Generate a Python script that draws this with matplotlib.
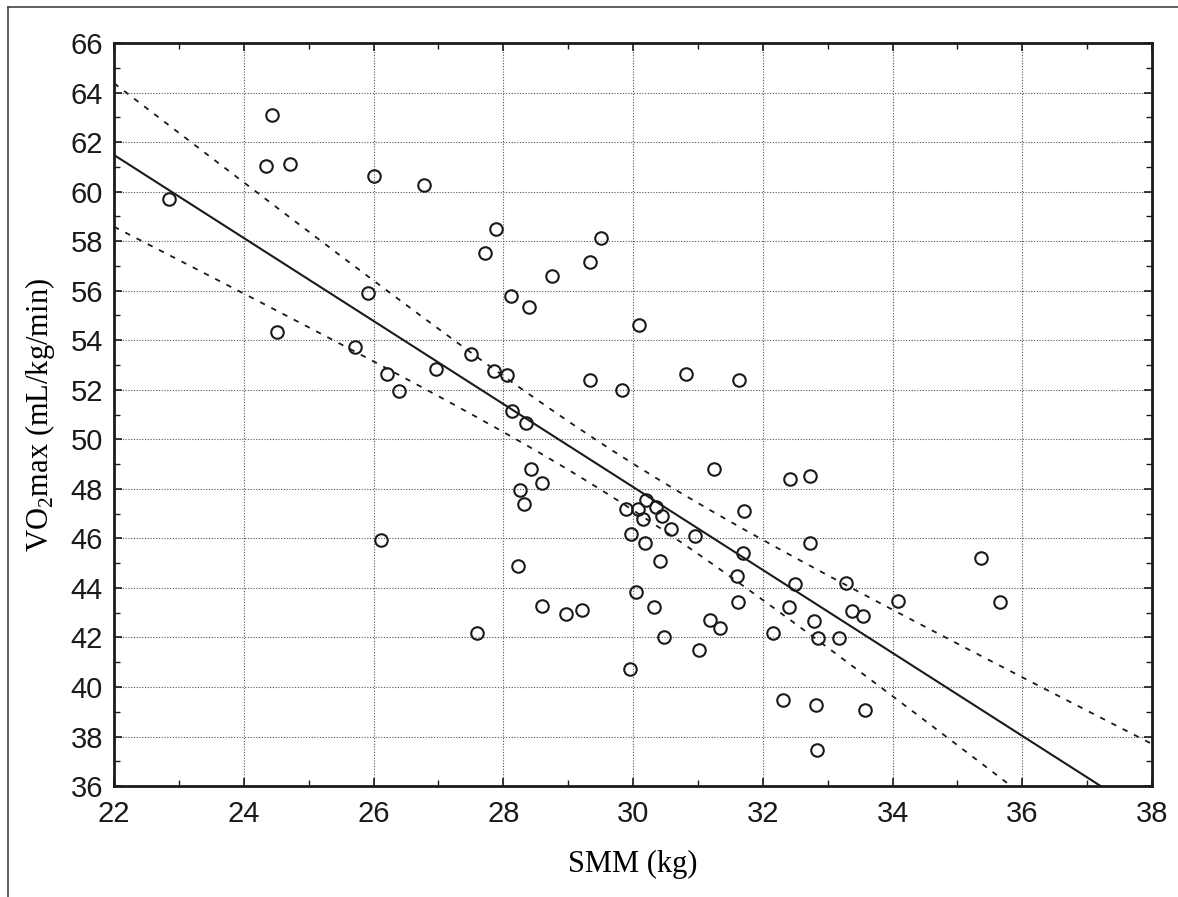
import numpy as np
import matplotlib
matplotlib.use("Agg")
import matplotlib.pyplot as plt
from matplotlib.lines import Line2D
from matplotlib.ticker import MultipleLocator

plt.rcParams['mathtext.fontset'] = 'custom'
plt.rcParams['mathtext.rm'] = 'Liberation Serif'

# SMM (kg) and VO2max (mL/kg/min)
smm = [22.84, 24.43, 24.34, 24.72, 26.01, 26.78, 27.88, 27.72, 25.91, 24.51,
       25.72, 27.50, 26.96, 26.20, 27.86, 26.39, 29.51, 29.33, 28.75, 28.12,
       28.39, 30.09, 28.06, 29.34, 29.83, 30.81, 31.64, 28.13, 28.35, 28.42,
       31.25, 32.42, 28.59, 28.26, 28.32, 30.20, 29.89, 30.08, 30.36, 30.16,
       30.44, 31.71, 30.59, 30.95, 29.97, 30.18, 31.70, 30.42, 28.22, 31.60,
       32.50, 30.04, 28.59, 28.96, 29.22, 30.33, 31.61, 32.40, 31.19, 31.34,
       27.60, 30.48, 32.16, 31.01, 29.96, 32.31, 26.11, 32.72, 32.73, 35.36,
       33.28, 34.08, 35.66, 33.37, 33.54, 32.79, 32.85, 33.18, 32.82, 33.58,
       32.84]
vo2 = [59.70, 63.11, 61.05, 61.10, 60.62, 60.25, 58.49, 57.51, 55.92, 54.32,
       53.74, 53.44, 52.85, 52.62, 52.75, 51.96, 58.14, 57.17, 56.59, 55.77,
       55.34, 54.63, 52.58, 52.41, 52.00, 52.65, 52.40, 51.14, 50.67, 48.81,
       48.81, 48.40, 48.24, 47.95, 47.38, 47.55, 47.17, 47.20, 47.26, 46.80,
       46.90, 47.12, 46.39, 46.11, 46.18, 45.80, 45.41, 45.08, 44.90, 44.49,
       44.17, 43.85, 43.27, 42.95, 43.11, 43.22, 43.43, 43.22, 42.71, 42.38,
       42.19, 42.03, 42.19, 41.49, 40.73, 39.49, 45.95, 48.51, 45.81, 45.22,
       44.19, 43.47, 43.43, 43.08, 42.85, 42.68, 41.97, 41.97, 39.27, 39.07,
       37.45]

x = np.array(smm)
y = np.array(vo2)

# linear fit + 95% confidence band of the mean
n = len(x)
slope, icpt = np.polyfit(x, y, 1)
resid = y - (icpt + slope * x)
s = np.sqrt(np.sum(resid ** 2) / (n - 2))
t = 1.99
xx = np.linspace(22, 38, 200)
yy = icpt + slope * xx
se = s * np.sqrt(1.0 / n + (xx - x.mean()) ** 2 / np.sum((x - x.mean()) ** 2))

fig = plt.figure(figsize=(11.78, 8.97), dpi=100)
ax = fig.add_axes([0.0968, 0.1237, 0.8812, 0.8283])

ax.plot(xx, yy, color='#1a1a1a', lw=1.5)
ax.plot(xx, yy + t * se, color='#1a1a1a', lw=1.3, ls=(0, (3, 4)))
ax.plot(xx, yy - t * se, color='#1a1a1a', lw=1.3, ls=(0, (3, 4)))
ax.plot(x, y, 'o', mfc='none', mec='#1a1a1a', mew=1.5, ms=9.0, ls='none')

ax.set_xlim(22, 38)
ax.set_ylim(36, 66)
ax.xaxis.set_major_locator(MultipleLocator(2))
ax.xaxis.set_minor_locator(MultipleLocator(1))
ax.yaxis.set_major_locator(MultipleLocator(2))
ax.yaxis.set_minor_locator(MultipleLocator(1))
ax.tick_params(which='both', direction='in', top=True, right=True, colors='#1a1a1a')
ax.tick_params(which='major', length=6, width=1.2, labelsize=21)
ax.tick_params(axis='x', which='major', pad=10)
ax.tick_params(axis='y', which='major', pad=8)
ax.tick_params(which='minor', length=4, width=1.0)
for lbl in ax.get_xticklabels() + ax.get_yticklabels():
    lbl.set_fontfamily('Liberation Sans')
ax.grid(True, which='major', color='#555555', ls=(0, (1, 1.5)), lw=0.8)
for sp in ax.spines.values():
    sp.set_linewidth(2.0)
    sp.set_color('#1a1a1a')

ax.set_xlabel('SMM (kg)', family='Liberation Serif', fontsize=22, labelpad=16)
ax.set_ylabel('VO$_2$max (mL/kg/min)', family='Liberation Serif', fontsize=22, labelpad=10)

# outer frame (top and left edges visible)
fig.add_artist(Line2D([0.0068, 1.0], [0.992, 0.992], transform=fig.transFigure, color='#444444', lw=1.2))
fig.add_artist(Line2D([0.0068, 0.0068], [0.0, 0.992], transform=fig.transFigure, color='#444444', lw=1.2))

fig.savefig('out.png', dpi=100)
